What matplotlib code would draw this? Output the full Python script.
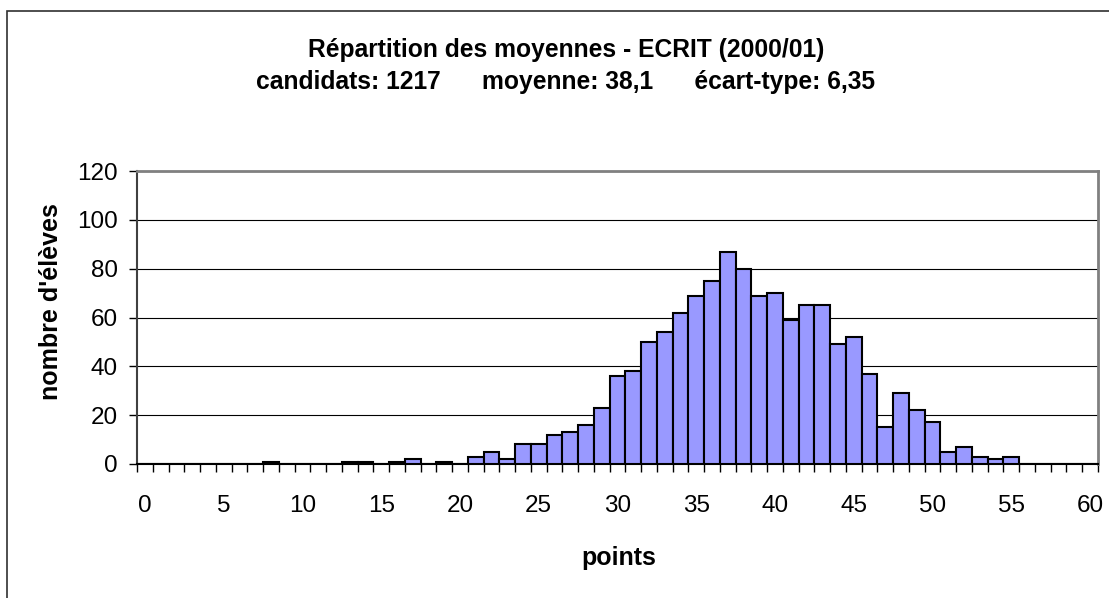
import numpy as np
import matplotlib.pyplot as plt
from matplotlib.patches import Rectangle

plt.rcParams['font.family'] = ['Liberation Sans', 'DejaVu Sans']

# notes (points) 0..60 and number of students per note
points = np.arange(0, 61)
eleves = [0, 0, 0, 0, 0, 0, 0, 0, 1, 0,
          0, 0, 0, 1, 1, 0, 1, 2, 0, 1,
          0, 3, 5, 2, 8, 8, 12, 13, 16, 23,
          36, 38, 50, 54, 62, 69, 75, 87, 80, 69,
          70, 59, 65, 65, 49, 52, 37, 15, 29, 22,
          17, 5, 7, 3, 2, 3, 0, 0, 0, 0,
          0]
xticks = np.arange(0, 61, 5)
yticks = np.arange(0, 121, 20)

titre = "Répartition des moyennes - ECRIT (2000/01)"
sous_titre = "candidats: 1217      moyenne: 38,1      écart-type: 6,35"

W, H = 1109, 598
fig = plt.figure(figsize=(W / 100, H / 100), dpi=100)

# outer chart frame (right and bottom edges fall outside the picture)
frame = Rectangle((7 / W, -0.1), 2, 1.1 - 11 / H, transform=fig.transFigure,
                  fill=False, edgecolor='#303030', linewidth=1.2)
fig.patches.append(frame)

ax = fig.add_axes([137 / W, 1 - 464 / H, (1098 - 137) / W, (464 - 171) / H])
ax.bar(points, eleves, width=1.0, color='#9999FF', edgecolor='black',
       linewidth=1.5, zorder=3)
ax.set_xlim(-0.5, 60.5)
ax.set_ylim(0, 120)

ax.set_yticks(yticks)
ax.yaxis.grid(True, color='black', linewidth=0.8, zorder=1)
ax.set_axisbelow(True)

ax.set_xticks(xticks)
ax.set_xticks(np.arange(-0.5, 61, 1), minor=True)
ax.tick_params(axis='x', which='major', length=0, pad=22, labelsize=17.5)
ax.tick_params(axis='x', which='minor', length=6, width=1, color='black')
ax.tick_params(axis='y', length=6, width=1, pad=8, labelsize=17.5)

for side in ['top', 'right']:
    ax.spines[side].set_color('#808080')
    ax.spines[side].set_linewidth(2)
ax.spines['left'].set_color('#404040')
ax.spines['left'].set_linewidth(1.5)
ax.spines['bottom'].set_color('black')
ax.spines['bottom'].set_linewidth(1.5)

fig.text(566 / W, 1 - 57 / H, titre, ha='center', va='baseline',
         fontsize=17.7, fontweight='bold')
fig.text(565 / W, 1 - 89 / H, sous_titre, ha='center', va='baseline',
         fontsize=17.7, fontweight='bold')
fig.text(51 / W, 1 - 302 / H, "nombre d'élèves", rotation=90, ha='center',
         va='center', fontsize=18, fontweight='bold')
fig.text(619 / W, 1 - 558 / H, 'points', ha='center', va='center',
         fontsize=18, fontweight='bold')

fig.savefig('out.png', dpi=100)
